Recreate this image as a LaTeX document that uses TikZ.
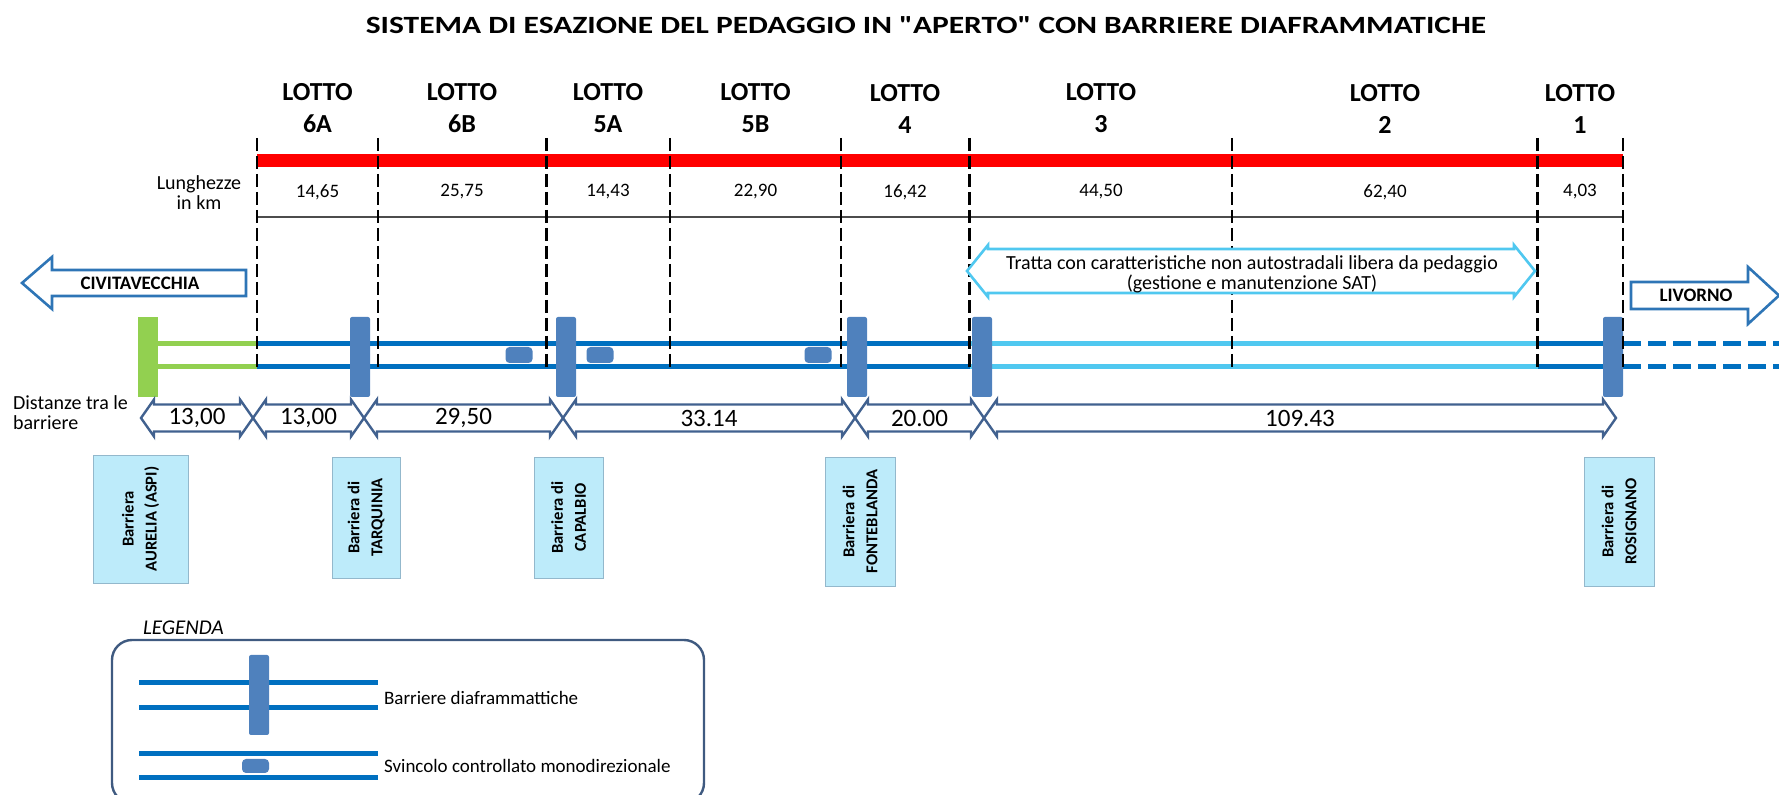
\documentclass[tikz,border=0pt]{standalone}
\usepackage{fontspec}
\setmainfont{Carlito}

\definecolor{roadblue}{HTML}{0070C0}
\definecolor{roadlight}{HTML}{50C8F0}
\definecolor{roadgreen}{HTML}{92D050}
\definecolor{barblue}{HTML}{4F81BD}
\definecolor{distgrey}{HTML}{41618F}
\definecolor{cityblue}{HTML}{2E75B6}
\definecolor{boxfill}{HTML}{BDEBFA}
\definecolor{boxline}{HTML}{93B8CC}
\definecolor{legline}{HTML}{3F5A80}

\begin{document}
\begin{tikzpicture}[x=0.5pt, y=-0.5pt,
    road/.style={line width=2.5pt},
    lotdash/.style={line width=1.25pt, dash pattern=on 6.5pt off 2.5pt},
    barrier/.style={fill=barblue, rounded corners=1pt},
    svincolo/.style={fill=barblue, rounded corners=2pt},
    distarrow/.style={draw=distgrey, line width=1.2pt, fill=white},
    cityarrow/.style={draw=cityblue, line width=1.3pt, fill=white},
    lotto/.style={font=\bfseries\fontsize{13}{16}\selectfont, align=center},
    lungh/.style={font=\fontsize{9.5}{10}\selectfont},
    distnum/.style={font=\fontsize{12.5}{12.5}\selectfont},
    namebox/.style={draw=boxline, fill=boxfill, rotate=90, align=center, inner sep=0pt,
        font=\bfseries\fontsize{8.3}{11.5}\selectfont},
    legtext/.style={anchor=west, font=\fontsize{9.5}{10}\selectfont}]
    \useasboundingbox (0,0) rectangle (1779,795);

    % titolo
    \node[font=\bfseries\fontsize{12.4}{14}\selectfont] (title) at (926,25)
        {\scalebox{1.27}[1]{SISTEMA DI ESAZIONE DEL PEDAGGIO IN \textquotedbl APERTO\textquotedbl{} CON BARRIERE DIAFRAMMATICHE}};

    % lotti
    \foreach \x/\n [count=\i] in {317.5/6A,462/6B,608/5A,755.5/5B,905/4,1101/3,1385/2,1580/1}
        \node[lotto] (lotto\i) at (\x,108.5) {LOTTO\\\n};
    \fill[red] (257,154) rectangle (1623,167);
    \draw[line width=0.8pt, black!70] (257,217) -- (1623,217);
    \foreach \x/\v [count=\i] in {317.5/{14,65},462/{25,75},608/{14,43},755.5/{22,90},905/{16,42},1101/{44,50},1385/{62,40},1580/{4,03}}
        \node[lungh] (len\i) at (\x,192) {\v};
    \node[align=center, font=\fontsize{10}{10}\selectfont] (lunghezze) at (199,193) {Lunghezze\\in km};

    % direzioni
    \draw[cityarrow] (22,283) -- (52,257) -- (52,270) -- (246,270) -- (246,296) -- (52,296) -- (52,309) -- cycle;
    \node[font=\bfseries\fontsize{9.5}{10}\selectfont] (civitavecchia) at (140,283) {CIVITAVECCHIA};
    \draw[cityarrow] (1631,282) -- (1748,282) -- (1748,267) -- (1779,295.5) -- (1748,324) -- (1748,309) -- (1631,309) -- cycle;
    \node[font=\bfseries\fontsize{9.5}{10}\selectfont] (livorno) at (1696,295.5) {LIVORNO};

    % autostrada
    \draw[road, roadgreen] (158,344) -- (257,344) (158,367) -- (257,367);
    \draw[road, roadblue] (257,344) -- (969.5,344) (257,367) -- (969.5,367);
    \draw[road, roadlight] (969.5,344) -- (1537.5,344) (969.5,367) -- (1537.5,367);
    \draw[road, roadblue] (1537.5,344) -- (1623,344) (1537.5,367) -- (1623,367);
    \draw[road, roadblue, dash pattern=on 9pt off 3.5pt] (1623,344) -- (1779,344) (1623,367) -- (1779,367);
    \fill[roadgreen] (138,317) rectangle (158,397);
    \foreach \x in {360,566,857,982,1613}
        \fill[barrier] (\x-10,317) rectangle (\x+10,397);
    \foreach \x in {519,600,818}
        \fill[svincolo] (\x-13.5,347) rectangle (\x+13.5,363);

    % confini dei lotti
    \foreach \x [count=\i] in {257,378,546.5,670,841,969.5,1232,1537.5,1623}{
        \coordinate (T\i) at (\x,138);
        \coordinate (B\i) at (\x,367);
        \draw[lotdash] (T\i) -- (B\i);
    }

    % tratta SAT
    \draw[draw=roadlight, line width=1.3pt, fill=white] (967,271) -- (988,245) -- (988,249) -- (1514,249) -- (1514,245)
        -- (1535,271) -- (1514,297) -- (1514,293) -- (988,293) -- (988,297) -- cycle;
    \node[align=center, font=\fontsize{10}{10}\selectfont] (tratta) at (1252,274)
        {Tratta con caratteristiche non autostradali libera da pedaggio\\(gestione e manutenzione SAT)};

    % distanze
    \node[align=left, anchor=west, font=\fontsize{10}{10}\selectfont] (distanze) at (6,413) {Distanze tra le\\barriere};
    \foreach \a/\b/\t [count=\i] in {141/253/{13,00},253/364/{13,00},364/563/{29,50},563/855/{33.14},855/984/{20.00},984/1616/{109.43}}{
        \draw[distarrow] (\a,418) -- (\a+13,399.5) -- (\a+13,404.5) -- (\b-13,404.5) -- (\b-13,399.5) -- (\b,418)
            -- (\b-13,436.5) -- (\b-13,431.5) -- (\a+13,431.5) -- (\a+13,436.5) -- cycle;
        \node[distnum] (dist\i) at ({(\a+\b)/2},418) {\t};
    }

    % barriere
    \foreach \x/\y/\w/\h/\t [count=\i] in {140.5/519/64/47.5/{Barriera\\AURELIA (ASPI)},366/517.5/60.5/34/{Barriera di\\TARQUINIA},
        568.5/517.5/60.5/34.5/{Barriera di\\CAPALBIO},860/521.5/64.5/35/{Barriera di\\FONTEBLANDA},1619/521.5/64.5/35/{Barriera di\\ROSIGNANO}}
        \node[namebox, minimum width=\w pt, minimum height=\h pt] (box\i) at (\x,\y) {\t};

    % legenda
    \node[anchor=west, font=\itshape\fontsize{10.5}{11}\selectfont] (legenda) at (136,628) {LEGENDA};
    \draw[draw=legline, line width=1.2pt, rounded corners=10pt] (112,640) rectangle (704,803);
    \draw[road, roadblue] (139,683) -- (378,683) (139,708) -- (378,708);
    \fill[barrier] (249,655) rectangle (269,735);
    \node[legtext] (leg1) at (377,698) {Barriere diaframmattiche};
    \draw[road, roadblue] (139,754) -- (378,754) (139,778) -- (378,778);
    \fill[svincolo] (242,759) rectangle (269,773);
    \node[legtext] (leg2) at (377,766) {Svincolo controllato monodirezionale};
\end{tikzpicture}
\end{document}
